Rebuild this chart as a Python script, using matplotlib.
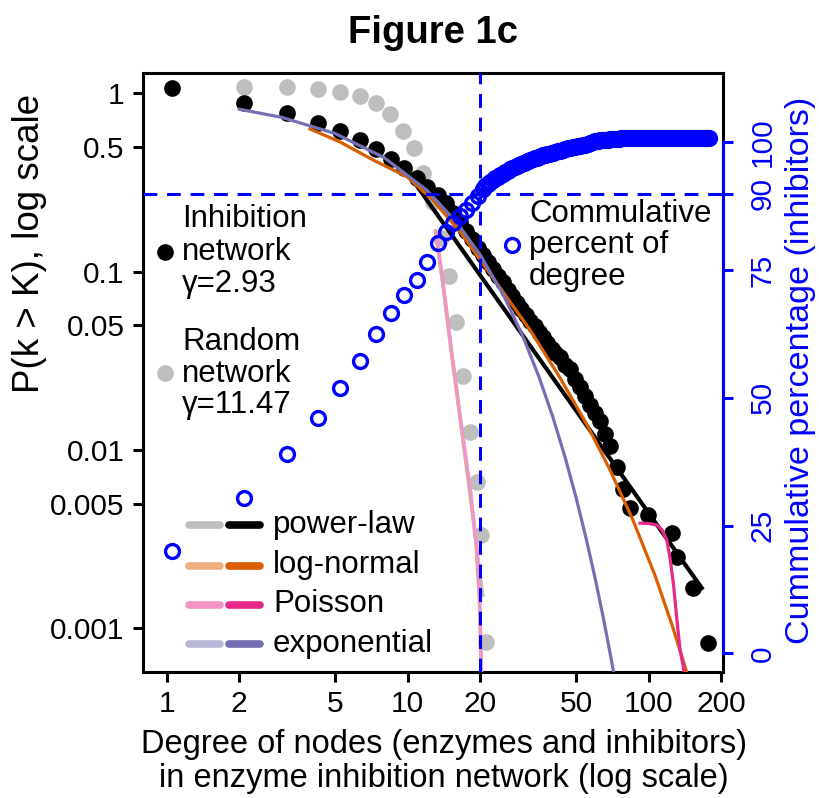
import matplotlib
matplotlib.use("Agg")
import matplotlib.pyplot as plt
from matplotlib.lines import Line2D

plt.rcParams['font.family'] = ['Liberation Sans', 'DejaVu Sans']

# ---------------- data ----------------
# Inhibition network: cumulative distribution P(k > K)
inhib_deg = [1.05, 2.10, 3.15, 4.23, 5.24, 6.34, 7.39, 8.5, 9.68, 10.9, 12.0, 13.4,
             14.4, 15.4, 16.5, 17.4, 18.4, 19.5, 20.5, 21.5, 22.6, 23.7, 24.8, 26.0,
             27.2, 28.4, 29.6, 31.0, 32.3, 33.7, 35.0, 36.5, 38.0, 39.5, 41.0, 43.0,
             45.0, 47.2, 49.5, 52.0, 54.5, 57.1, 60.0, 62.8, 66.0, 69.1, 73.9, 78.2,
             83.6, 99.3, 125, 131, 153, 176]
inhib_p = [1.067, 0.886, 0.778, 0.684, 0.614, 0.547, 0.485, 0.428, 0.380, 0.334, 0.299, 0.269,
           0.243, 0.212, 0.190, 0.170, 0.152, 0.136, 0.124, 0.113, 0.103, 0.094, 0.087, 0.079,
           0.073, 0.067, 0.062, 0.057, 0.053, 0.0495, 0.046, 0.043, 0.0400, 0.037, 0.035, 0.0330,
           0.030, 0.0285, 0.025, 0.0225, 0.020, 0.0179, 0.016, 0.0145, 0.0122, 0.0105, 0.0080, 0.0060,
           0.0047, 0.0043, 0.0034, 0.0025, 0.00168, 0.00083]

# Random network
rand_deg = [2.10, 3.15, 4.23, 5.24, 6.34, 7.39, 8.45, 9.6, 10.6, 11.55, 12.7, 13.8,
            14.9, 15.9, 16.9, 18.1, 19.4, 20.2, 21.1]
rand_p = [1.089, 1.089, 1.057, 1.013, 0.966, 0.879, 0.765, 0.617, 0.492, 0.356, 0.247, 0.154,
          0.0945, 0.0522, 0.0258, 0.01265, 0.00663, 0.00334, 0.000837]

# Cumulative percent of degree (right axis)
cum_deg = [1.05, 2.10, 3.15, 4.23, 5.24, 6.34, 7.39, 8.5, 9.68, 10.9, 12.0, 13.4,
           14.4, 15.4, 16.5, 17.4, 18.4, 19.5,
           20.5, 21.0, 21.5, 22.0, 22.6, 23.1, 23.7, 24.2, 24.8, 25.4, 26.0, 26.6,
           27.2, 27.8, 28.4, 29.0, 29.6, 30.3, 31.0, 31.6, 32.3, 33.0, 33.7, 34.3,
           35.0, 35.7, 36.5, 37.2, 38.0, 38.7, 39.5, 40.2, 41.0, 42.0, 43.0, 44.0,
           45.0, 46.1, 47.2, 48.3, 49.5, 50.7, 52.0, 53.2, 54.5, 55.8, 57.1, 58.5,
           60.0, 61.4, 62.8, 64.3, 66.0, 67.5, 69.0, 70.5, 72.0, 73.5, 75.0, 76.5,
           78.0, 80, 82, 84, 86, 88, 90, 92, 94, 96, 98, 100, 102.5, 105, 107.5,
           110, 112.5, 115, 117.5, 120, 123, 126, 129, 132, 135, 138, 141, 144,
           147, 150, 153.5, 157, 160.5, 164, 167.5, 171, 174.5, 178]
cum_pct = [20.0, 30.5, 39.0, 46.0, 51.9, 57.3, 62.5, 66.7, 70.1, 73.0, 76.6, 80.3,
           82.5, 84.2, 85.6, 86.8, 88.2, 89.5,
           90.9, 91.4, 91.8, 92.3, 92.7, 93.0, 93.3, 93.6, 93.9, 94.2, 94.5, 94.8,
           95.0, 95.2, 95.4, 95.6, 95.8, 96.0, 96.2, 96.4, 96.6, 96.8, 96.9, 97.05,
           97.2, 97.35, 97.5, 97.6, 97.7, 97.8, 97.9, 98.0, 98.1, 98.25, 98.4, 98.55,
           98.7, 98.85, 99.0, 99.1, 99.2, 99.3, 99.4, 99.5, 99.6, 99.75, 99.9, 100.05,
           100.2, 100.3, 100.4, 100.45, 100.5, 100.55, 100.6, 100.65, 100.7, 100.72, 100.75, 100.78,
           100.8, 100.8, 100.8, 100.8, 100.8, 100.8, 100.8, 100.8, 100.8, 100.8, 100.8, 100.8, 100.8,
           100.8, 100.8, 100.8, 100.8, 100.8, 100.8, 100.8, 100.8, 100.8, 100.8, 100.8, 100.8,
           100.8, 100.8, 100.8, 100.8, 100.8, 100.8, 100.8, 100.8, 100.8, 100.8, 100.8, 100.8,
           100.8]

# Fitted curves, inhibition network
pl_x = [10.7, 166]
pl_y = [0.314, 0.00168]
ln_x = [3.93, 5.24, 7.18, 9.94, 12.7, 16.5, 24.2, 32.2, 42.9, 55.5, 69.1, 86.0, 106, 125, 148]
ln_y = [0.631, 0.533, 0.423, 0.34, 0.252, 0.167, 0.0809, 0.047, 0.0253, 0.0138, 0.00771,
        0.00404, 0.00199, 0.00104, 0.00050]
po_x = [92.0, 99.3, 108, 113.5, 118.8, 122.5, 126.5, 131, 134.9, 139.2, 141.7]
po_y = [0.00388, 0.00387, 0.00379, 0.00356, 0.00313, 0.00248, 0.00179, 0.00111, 0.000755,
        0.000608, 0.00045]
ex_x = [2, 3, 5, 8, 12, 16, 20, 25, 30, 35, 40, 45, 50, 55, 60, 65, 70, 75]
ex_y = [0.814, 0.733, 0.595, 0.435, 0.286, 0.188, 0.124, 0.0735, 0.0435, 0.0258, 0.0153,
        0.00907, 0.00537, 0.00318, 0.00189, 0.00112, 0.000663, 0.000393]

# Fitted curves, random network
rpl_x = [13.1, 20.5]
rpl_y = [0.1668, 0.00153]
rln_x = [13.0, 13.9, 15.0, 16.5, 18.1, 19.2, 19.8, 20.1, 20.2]
rln_y = [0.170, 0.0897, 0.0388, 0.0147, 0.00596, 0.00293, 0.00144, 0.000663, 0.00045]
rpo_x = [13.1, 14.0, 15.1, 16.6, 18.2, 19.3, 19.9, 20.2, 20.3]
rpo_y = [0.1668, 0.0897, 0.0388, 0.0147, 0.00596, 0.00293, 0.00144, 0.000663, 0.00045]
rex_x = [13.1, 14.0, 15.1, 16.6, 18.2, 19.3, 19.9, 20.2, 20.3]
rex_y = [0.1600, 0.0870, 0.0380, 0.0145, 0.00590, 0.00290, 0.00142, 0.000655, 0.00045]

x_ticks = [1, 2, 5, 10, 20, 50, 100, 200]
y_ticks = [1, 0.5, 0.1, 0.05, 0.01, 0.005, 0.001]
y_ticklabels = ['1', '0.5', '0.1', '0.05', '0.01', '0.005', '0.001']
r_ticks = [0, 25, 50, 75, 90, 100]
legend_names = ['power-law', 'log-normal', 'Poisson', 'exponential']

# ---------------- styling ----------------
W, H = 819, 798
BLUE = '#0000FF'
GRAY = '#BEBEBE'
C_PL = ('#BEBEBE', '#000000')
C_LN = ('#EDAF80', '#D95F02')
C_PO = ('#F394C4', '#E7298A')
C_EX = ('#BAB8D9', '#7570B3')
FS = 21.5


def fx(px):
    return px / W


def fy(py):
    return 1 - py / H


fig = plt.figure(figsize=(W / 100, H / 100), dpi=100)
ax = fig.add_axes([fx(143.3), fy(671.7), (723.3 - 143.3) / W, (671.7 - 73) / H])
ax.set_xscale('log')
ax.set_yscale('log')
ax.set_xlim(0.7995, 203.9)
ax.set_ylim(5.70e-4, 1.2997)

ax.plot(rand_deg, rand_p, 'o', color=GRAY, ms=12, mew=0, zorder=2)
ax.plot(inhib_deg, inhib_p, 'o', color='black', ms=12, mew=0, zorder=3)

lw = 2.3
ax.plot(rpl_x, rpl_y, color=C_PL[0], lw=lw, zorder=4)
ax.plot(rln_x, rln_y, color=C_LN[0], lw=lw, zorder=4)
ax.plot(rex_x, rex_y, color=C_EX[0], lw=lw, zorder=4)
ax.plot(rpo_x, rpo_y, color=C_PO[0], lw=lw, zorder=4)
ax.plot(pl_x, pl_y, color=C_PL[1], lw=3.0, zorder=5)
ax.plot(ln_x, ln_y, color=C_LN[1], lw=lw, zorder=5)
ax.plot(ex_x, ex_y, color=C_EX[1], lw=lw, zorder=5)
ax.plot(po_x, po_y, color=C_PO[1], lw=lw, zorder=5)

ax.set_xticks(x_ticks)
ax.set_xticklabels([str(t) for t in x_ticks])
ax.set_yticks(y_ticks)
ax.set_yticklabels(y_ticklabels)
ax.minorticks_off()
ax.tick_params(axis='both', direction='out', length=7.5, width=2.2, labelsize=FS, color='black')
ax.tick_params(axis='x', pad=6)
ax.tick_params(axis='y', pad=6)
for s in ax.spines.values():
    s.set_linewidth(2.2)
    s.set_color('black')

ax2 = ax.twinx()
ax2.set_ylim(-3.6, 113.6)
ax2.plot(cum_deg, cum_pct, 'o', mfc='none', mec=BLUE, ms=10, mew=2.4, zorder=6)
ax2.axhline(90, color=BLUE, lw=2.2, ls=(0, (4.5, 3.2)), zorder=7)
ax2.axvline(20, color=BLUE, lw=2.2, ls=(0, (4.5, 3.2)), zorder=7)
ax2.set_yticks(r_ticks)
ax2.set_yticklabels([str(t) for t in r_ticks])
ax2.tick_params(axis='y', direction='out', length=7.5, width=2.2, labelsize=FS,
                colors=BLUE, pad=11, labelrotation=90)
for k in ['left', 'top', 'bottom']:
    ax2.spines[k].set_visible(False)
ax2.spines['right'].set_color(BLUE)
ax2.spines['right'].set_linewidth(2.2)
ax2.spines['right'].set_bounds(0, 100)
for lab in ax2.get_yticklabels():
    lab.set_va('center')

# ---------------- texts ----------------
fig.text(fx(433), fy(33), 'Figure 1c', fontsize=27.5, fontweight='bold', ha='center', va='center')
fig.text(fx(30), fy(243), 'P(k > K), log scale', fontsize=26.5, rotation=90, ha='center', va='center')
fig.text(fx(800), fy(370), 'Cummulative percentage (inhibitors)', fontsize=24.5, rotation=90,
         ha='center', va='center', color=BLUE)
fig.text(fx(444), fy(745), 'Degree of nodes (enzymes and inhibitors)', fontsize=23.5, ha='center', va='center')
fig.text(fx(444), fy(778), 'in enzyme inhibition network (log scale)', fontsize=23.5, ha='center', va='center')

AFS = 22.5
for txt, base in [('Inhibition', 226.7), ('network', 259.5), ('\u03b3=2.93', 291.7)]:
    fig.text(fx(182), fy(base), txt, fontsize=AFS, ha='left', va='baseline')
for txt, base in [('Random', 350), ('network', 381.7), ('\u03b3=11.47', 413.3)]:
    fig.text(fx(182), fy(base), txt, fontsize=AFS, ha='left', va='baseline')
for txt, base in [('Commulative', 221.7), ('percent of', 253.3), ('degree', 284.5)]:
    fig.text(fx(529), fy(base), txt, fontsize=AFS, ha='left', va='baseline')

fig.add_artist(Line2D([fx(165)], [fy(251.7)], marker='o', color='black', ms=12, mew=0))
fig.add_artist(Line2D([fx(165)], [fy(373.3)], marker='o', color=GRAY, ms=12, mew=0))
fig.add_artist(Line2D([fx(512)], [fy(245)], marker='o', mfc='none', mec=BLUE, ms=10, mew=2.4))

# legend (manual)
rows = [525, 565.5, 604.5, 644]
bases = [533.3, 573.3, 611.7, 651.7]
cols = [C_PL, C_LN, C_PO, C_EX]
for name, ry, by, (cl, cd) in zip(legend_names, rows, bases, cols):
    fig.add_artist(Line2D([fx(189), fx(220)], [fy(ry), fy(ry)], color=cl, lw=5.5,
                          solid_capstyle='round'))
    fig.add_artist(Line2D([fx(229), fx(260)], [fy(ry), fy(ry)], color=cd, lw=5.5,
                          solid_capstyle='round'))
    fig.text(fx(273), fy(by), name, fontsize=AFS, ha='left', va='baseline')

fig.savefig('out.png', dpi=100)
